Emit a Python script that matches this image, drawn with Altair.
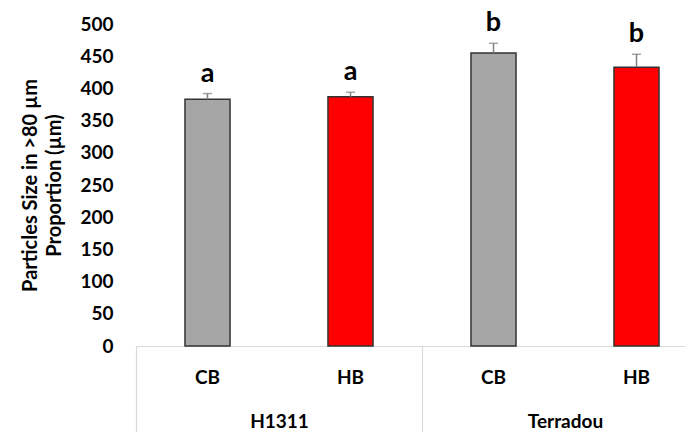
import altair as alt
import pandas as pd

# ---- data ----
cultivars = ["H1311", "H1311", "Terradou", "Terradou"]
treatments = ["CB", "HB", "CB", "HB"]
means = [383, 387, 455, 433]
errors = [9, 7, 15, 20]
letters = ["a", "a", "b", "b"]
groups = ["H1311", "Terradou"]
y_ticks = [0, 50, 100, 150, 200, 250, 300, 350, 400, 450, 500]

df = pd.DataFrame({
    "cultivar": cultivars,
    "treatment": treatments,
    "mean": means,
    "err": errors,
    "letter": letters,
})
df["key"] = df["cultivar"] + " " + df["treatment"]
df["top"] = df["mean"] + df["err"]
gdf = pd.DataFrame({"group": groups})

FONT = "Lato"
RANGE = [0, 572]

xscale = alt.Scale(domain=list(df["key"]), range=RANGE,
                   paddingInner=0.685, paddingOuter=0.3425)
x_enc = alt.X(
    "key:N", scale=xscale, sort=None,
    axis=alt.Axis(
        title=None, labelExpr="split(datum.label, ' ')[1]", labelAngle=0,
        ticks=False, domainColor="#d9d9d9", domainWidth=1.2,
        labelPadding=22, labelFont=FONT, labelFontSize=19,
        labelFontWeight="bold", labelColor="black", orient="bottom",
    ),
)
yscale = alt.Scale(domain=[0, 500], nice=False, zero=True)
yaxis = alt.Axis(
    title=["Particles Size in >80 µm", "Proportion (µm)"],
    values=y_ticks, tickCount=11, grid=False, domain=False, ticks=False,
    labelOverlap=False,
    labelPadding=23, labelFont=FONT, labelFontSize=19,
    labelFontWeight="bold", labelColor="black",
    titleFont=FONT, titleFontSize=20, titleFontWeight="bold",
    titleColor="black", titleLineHeight=24, titlePadding=15,
)

bars = alt.Chart(df).mark_bar(stroke="#333333", strokeWidth=1.5).encode(
    x=x_enc,
    y=alt.Y("mean:Q", scale=yscale, axis=yaxis),
    color=alt.Color("treatment:N",
                    scale=alt.Scale(domain=["CB", "HB"], range=["#a6a6a6", "#ff0000"]),
                    legend=None),
)

err_line = alt.Chart(df).mark_rule(color="#7f7f7f", strokeWidth=1.5).encode(
    x=x_enc, y=alt.Y("mean:Q", scale=yscale, axis=yaxis), y2="top:Q"
)
err_cap = alt.Chart(df).mark_tick(color="#7f7f7f", thickness=1.5, size=9).encode(
    x=x_enc, y=alt.Y("top:Q", scale=yscale, axis=yaxis)
)
labels = alt.Chart(df).mark_text(
    font=FONT, fontSize=27, fontWeight="bold", color="black",
    baseline="alphabetic", dy=-12,
).encode(x=x_enc, y=alt.Y("top:Q", scale=yscale, axis=yaxis), text="letter:N")

main = alt.layer(bars, err_line, err_cap, labels)

group_axis = alt.Chart(gdf).mark_point(opacity=0).encode(
    x=alt.X(
        "group:N", sort=None,
        scale=alt.Scale(domain=groups, range=RANGE, paddingInner=0, paddingOuter=0),
        axis=alt.Axis(
            title=None, orient="bottom", domain=False, ticks=True,
            tickBand="extent", tickSize=86, tickColor="#d9d9d9", tickWidth=1.2,
            labelPadding=-20, labelAngle=0, labelFont=FONT, labelFontSize=19,
            labelFontWeight="bold", labelColor="black",
        ),
    )
)

chart = (
    alt.layer(main, group_axis)
    .resolve_scale(x="independent")
    .properties(
        width=549, height=322,
        autosize=alt.AutoSizeParams(type="none"),
        padding={"left": 128, "top": 16, "right": 0, "bottom": 86},
    )
    .configure_view(stroke=None)
)

chart.save("out.html", embed_options={"renderer": "svg", "actions": False})
